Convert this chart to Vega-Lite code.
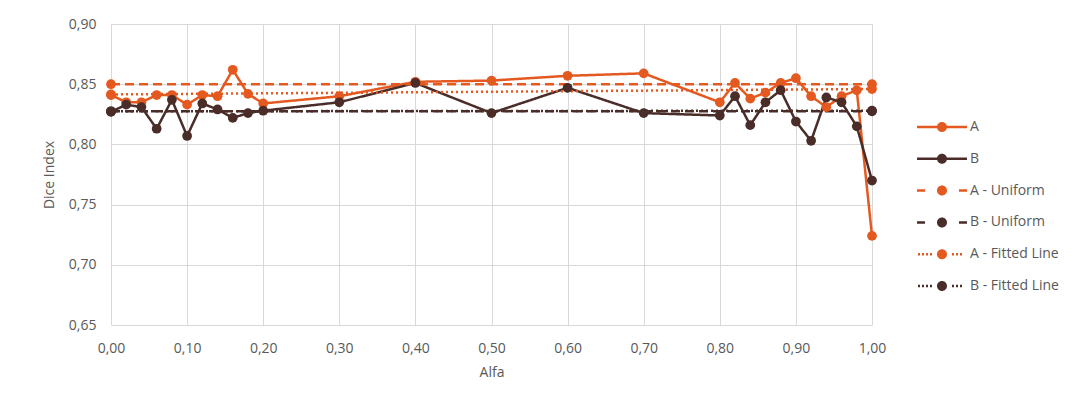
{
  "$schema": "https://vega.github.io/schema/vega-lite/v6.json",
  "width": 761,
  "height": 301,
  "autosize": {"type": "none"},
  "padding": {"left": 111, "top": 24, "right": 212, "bottom": 81},
  "background": "white",
  "config": {
    "font": "Open Sans",
    "view": {"stroke": null},
    "axis": {
      "gridColor": "#d9d9d9",
      "gridWidth": 1,
      "domain": false,
      "ticks": false,
      "tickSize": 0,
      "labelFlush": false,
      "labelColor": "#595959",
      "labelFontSize": 14,
      "titleColor": "#595959",
      "titleFontSize": 14,
      "titleFontWeight": "normal"
    },
    "legend": {"labelColor": "#595959", "labelFontSize": 14}
  },
  "data": {
    "values": [
      {"alfa": 0.00, "value": 0.841, "series": "A"},
      {"alfa": 0.02, "value": 0.835, "series": "A"},
      {"alfa": 0.04, "value": 0.835, "series": "A"},
      {"alfa": 0.06, "value": 0.841, "series": "A"},
      {"alfa": 0.08, "value": 0.841, "series": "A"},
      {"alfa": 0.10, "value": 0.833, "series": "A"},
      {"alfa": 0.12, "value": 0.841, "series": "A"},
      {"alfa": 0.14, "value": 0.840, "series": "A"},
      {"alfa": 0.16, "value": 0.862, "series": "A"},
      {"alfa": 0.18, "value": 0.842, "series": "A"},
      {"alfa": 0.20, "value": 0.834, "series": "A"},
      {"alfa": 0.30, "value": 0.840, "series": "A"},
      {"alfa": 0.40, "value": 0.852, "series": "A"},
      {"alfa": 0.50, "value": 0.853, "series": "A"},
      {"alfa": 0.60, "value": 0.857, "series": "A"},
      {"alfa": 0.70, "value": 0.859, "series": "A"},
      {"alfa": 0.80, "value": 0.835, "series": "A"},
      {"alfa": 0.82, "value": 0.851, "series": "A"},
      {"alfa": 0.84, "value": 0.838, "series": "A"},
      {"alfa": 0.86, "value": 0.843, "series": "A"},
      {"alfa": 0.88, "value": 0.851, "series": "A"},
      {"alfa": 0.90, "value": 0.855, "series": "A"},
      {"alfa": 0.92, "value": 0.840, "series": "A"},
      {"alfa": 0.94, "value": 0.831, "series": "A"},
      {"alfa": 0.96, "value": 0.840, "series": "A"},
      {"alfa": 0.98, "value": 0.845, "series": "A"},
      {"alfa": 1.00, "value": 0.724, "series": "A"},
      {"alfa": 0.00, "value": 0.827, "series": "B"},
      {"alfa": 0.02, "value": 0.833, "series": "B"},
      {"alfa": 0.04, "value": 0.831, "series": "B"},
      {"alfa": 0.06, "value": 0.813, "series": "B"},
      {"alfa": 0.08, "value": 0.837, "series": "B"},
      {"alfa": 0.10, "value": 0.807, "series": "B"},
      {"alfa": 0.12, "value": 0.834, "series": "B"},
      {"alfa": 0.14, "value": 0.829, "series": "B"},
      {"alfa": 0.16, "value": 0.822, "series": "B"},
      {"alfa": 0.18, "value": 0.826, "series": "B"},
      {"alfa": 0.20, "value": 0.828, "series": "B"},
      {"alfa": 0.30, "value": 0.835, "series": "B"},
      {"alfa": 0.40, "value": 0.851, "series": "B"},
      {"alfa": 0.50, "value": 0.826, "series": "B"},
      {"alfa": 0.60, "value": 0.847, "series": "B"},
      {"alfa": 0.70, "value": 0.826, "series": "B"},
      {"alfa": 0.80, "value": 0.824, "series": "B"},
      {"alfa": 0.82, "value": 0.840, "series": "B"},
      {"alfa": 0.84, "value": 0.816, "series": "B"},
      {"alfa": 0.86, "value": 0.835, "series": "B"},
      {"alfa": 0.88, "value": 0.845, "series": "B"},
      {"alfa": 0.90, "value": 0.819, "series": "B"},
      {"alfa": 0.92, "value": 0.803, "series": "B"},
      {"alfa": 0.94, "value": 0.839, "series": "B"},
      {"alfa": 0.96, "value": 0.835, "series": "B"},
      {"alfa": 0.98, "value": 0.815, "series": "B"},
      {"alfa": 1.00, "value": 0.770, "series": "B"},
      {"alfa": 0.00, "value": 0.850, "series": "A - Uniform"},
      {"alfa": 1.00, "value": 0.850, "series": "A - Uniform"},
      {"alfa": 0.00, "value": 0.8275, "series": "B - Uniform"},
      {"alfa": 1.00, "value": 0.8275, "series": "B - Uniform"},
      {"alfa": 0.00, "value": 0.8415, "series": "A - Fitted Line"},
      {"alfa": 1.00, "value": 0.8460, "series": "A - Fitted Line"},
      {"alfa": 0.00, "value": 0.8275, "series": "B - Fitted Line"},
      {"alfa": 1.00, "value": 0.8280, "series": "B - Fitted Line"}
    ]
  },
  "encoding": {
    "x": {
      "field": "alfa",
      "type": "quantitative",
      "scale": {"domain": [0, 1], "nice": false},
      "axis": {
        "values": [0, 0.1, 0.2, 0.3, 0.4, 0.5, 0.6, 0.7, 0.8, 0.9, 1.0],
        "labelExpr": "replace(format(datum.value, '.2f'), '.', ',')",
        "labelPadding": 16,
        "title": "Alfa",
        "titlePadding": 10
      }
    },
    "y": {
      "field": "value",
      "type": "quantitative",
      "scale": {"domain": [0.65, 0.90], "nice": false, "zero": false},
      "axis": {
        "values": [0.65, 0.70, 0.75, 0.80, 0.85, 0.90],
        "labelExpr": "replace(format(datum.value, '.2f'), '.', ',')",
        "labelPadding": 15,
        "title": "Dice Index",
        "titlePadding": 12
      }
    }
  },
  "resolve": {"scale": {"color": "independent", "strokeDash": "independent", "shape": "independent"}},
  "layer": [
    {
      "mark": {"type": "line", "strokeWidth": 2.5, "point": {"filled": true, "size": 95, "opacity": 1}},
      "encoding": {
        "color": {
          "field": "series",
          "type": "nominal",
          "scale": {
            "domain": ["A", "B", "A - Uniform", "B - Uniform", "A - Fitted Line", "B - Fitted Line"],
            "range": ["#E4591F", "#4A2C28", "#E4591F", "#4A2C28", "#E4591F", "#4A2C28"]
          },
          "legend": null
        },
        "strokeDash": {
          "field": "series",
          "type": "nominal",
          "scale": {
            "domain": ["A", "B", "A - Uniform", "B - Uniform", "A - Fitted Line", "B - Fitted Line"],
            "range": [[1, 0], [1, 0], [9, 5], [9, 5], [2, 3], [2, 3]]
          },
          "legend": null
        }
      }
    },
    {
      "transform": [{"filter": "datum.alfa < 0"}],
      "mark": {"type": "point", "filled": true, "opacity": 1, "strokeWidth": 0},
      "encoding": {
        "color": {
          "field": "series",
          "type": "nominal",
          "scale": {
            "domain": ["A", "B", "A - Uniform", "B - Uniform", "A - Fitted Line", "B - Fitted Line"],
            "range": ["#E4591F", "#4A2C28", "#E4591F", "#4A2C28", "#E4591F", "#4A2C28"]
          },
          "legend": {
            "title": null,
            "orient": "none",
            "legendX": 821,
            "legendY": 93,
            "padding": 0,
            "rowPadding": 14.8,
            "symbolSize": 400,
            "symbolStrokeWidth": 0,
            "symbolOpacity": 1,
            "labelOffset": 18
          }
        },
        "shape": {
          "field": "series",
          "type": "nominal",
          "scale": {
            "domain": ["A", "B", "A - Uniform", "B - Uniform", "A - Fitted Line", "B - Fitted Line"],
            "range": [
              "M-2.5,-0.125H2.5V0.125H-2.5Z M-0.5,0A0.5,0.5,0,1,1,0.5,0A0.5,0.5,0,1,1,-0.5,0Z",
              "M-2.5,-0.125H2.5V0.125H-2.5Z M-0.5,0A0.5,0.5,0,1,1,0.5,0A0.5,0.5,0,1,1,-0.5,0Z",
              "M-2.5,-0.125H-1.7V0.125H-2.5Z M1.7,-0.125H2.5V0.125H1.7Z M-0.5,0A0.5,0.5,0,1,1,0.5,0A0.5,0.5,0,1,1,-0.5,0Z",
              "M-2.5,-0.125H-1.7V0.125H-2.5Z M1.7,-0.125H2.5V0.125H1.7Z M-0.5,0A0.5,0.5,0,1,1,0.5,0A0.5,0.5,0,1,1,-0.5,0Z",
              "M-2.4,-0.125h0.2v0.25h-0.2Z M-2.0,-0.125h0.2v0.25h-0.2Z M-1.6,-0.125h0.2v0.25h-0.2Z M-1.2,-0.125h0.2v0.25h-0.2Z M1.0,-0.125h0.2v0.25h-0.2Z M1.4,-0.125h0.2v0.25h-0.2Z M1.8,-0.125h0.2v0.25h-0.2Z M-0.5,0A0.5,0.5,0,1,1,0.5,0A0.5,0.5,0,1,1,-0.5,0Z",
              "M-2.4,-0.125h0.2v0.25h-0.2Z M-2.0,-0.125h0.2v0.25h-0.2Z M-1.6,-0.125h0.2v0.25h-0.2Z M-1.2,-0.125h0.2v0.25h-0.2Z M1.0,-0.125h0.2v0.25h-0.2Z M1.4,-0.125h0.2v0.25h-0.2Z M1.8,-0.125h0.2v0.25h-0.2Z M-0.5,0A0.5,0.5,0,1,1,0.5,0A0.5,0.5,0,1,1,-0.5,0Z"
            ]
          },
          "legend": {
            "title": null,
            "orient": "none",
            "legendX": 821,
            "legendY": 93,
            "padding": 0,
            "rowPadding": 14.8,
            "symbolSize": 400,
            "symbolStrokeWidth": 0,
            "symbolOpacity": 1,
            "labelOffset": 18
          }
        }
      }
    }
  ]
}
